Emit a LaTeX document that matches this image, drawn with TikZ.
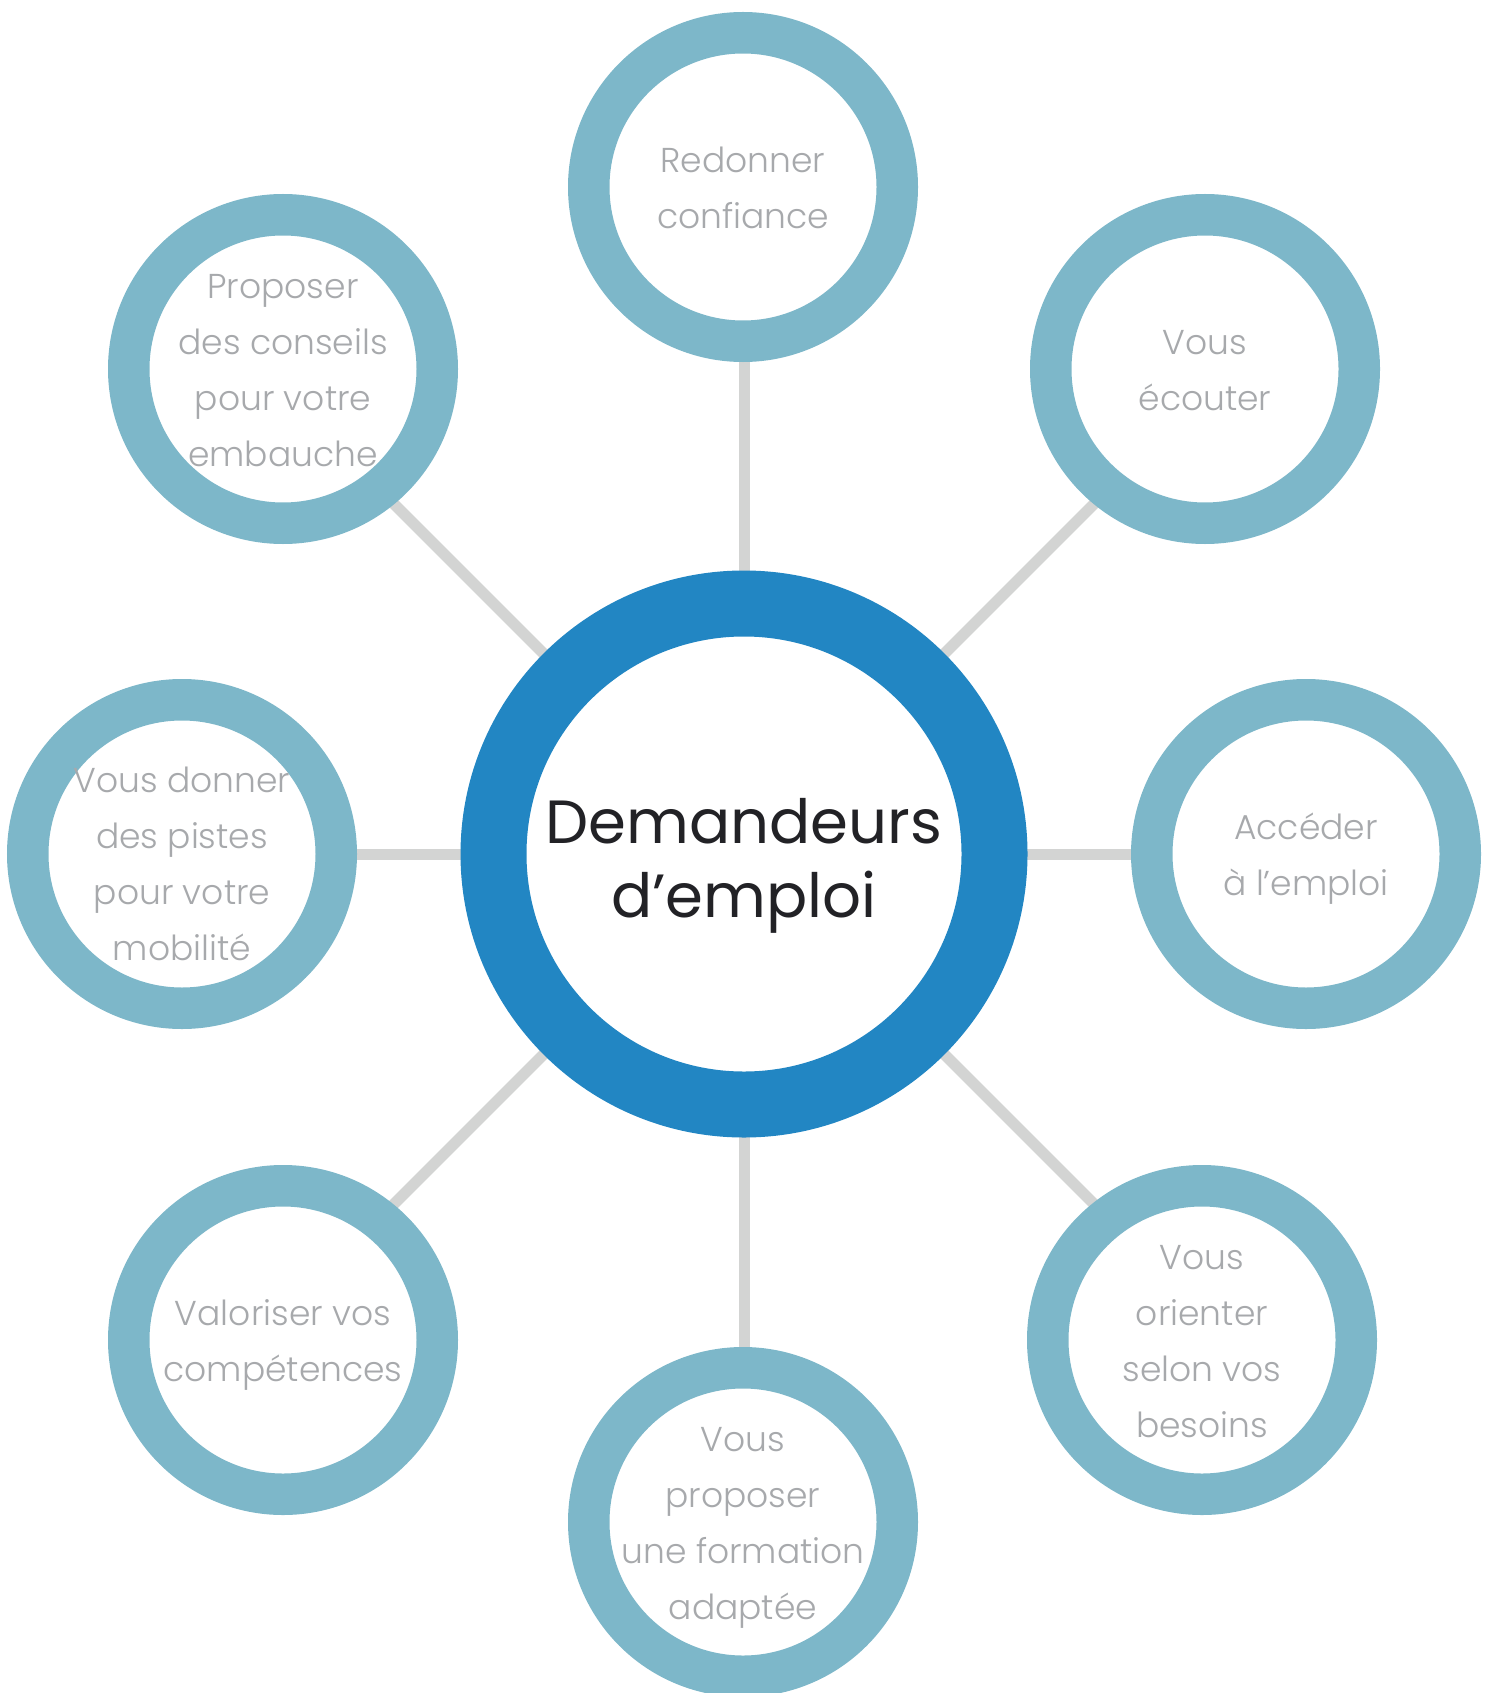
\documentclass[tikz,border=0pt]{standalone}
\usepackage{fontspec}
\usetikzlibrary{calc,backgrounds}
\setmainfont{Poppins}
\newfontfamily\legerfont{Poppins Light}
\definecolor{bleufonce}{HTML}{2286C3}
\definecolor{bleuclair}{HTML}{7DB7C9}
\definecolor{gristexte}{HTML}{A7A9AC}
\definecolor{grislien}{HTML}{D3D4D3}
\definecolor{noirtexte}{HTML}{222226}

\begin{document}
\begin{tikzpicture}
	[x=1pt,y=-1pt,
	every node/.style={circle,fill=white},
	centre/.style={draw=bleufonce,line width=66pt,minimum size=501pt,inner sep=0pt,
		text=noirtexte,align=center,font=\fontsize{61}{74}\selectfont,
		text height=126pt,text depth=0pt},
	bulle/.style={draw=bleuclair,line width=41.5pt,minimum size=308.5pt,inner sep=0pt},
	texte/.style={fill=none,inner sep=0pt,text=gristexte,align=center,
		font=\legerfont\fontsize{34.5}{56}\selectfont,text depth=0pt},
	deux/.style={texte,text height=83pt},
	quatre/.style={texte,text height=195pt},
	lien/.style={draw=grislien,line width=11pt}]
		\useasboundingbox (0,0) rectangle (1492,1693);
		\node[centre] (dem) at (744,854) {Demandeurs\\d’emploi};
		\node[bulle,label={[deux]center:Redonner\\confiance}] (conf) at (743,187) {};
		\node[bulle,label={[deux]center:Vous\\écouter}] (ecout) at (1205,369) {};
		\node[bulle,label={[deux]center:Accéder\\à l’emploi}] (acces) at (1306,854) {};
		\node[bulle,label={[quatre]center:Vous\\orienter\\selon vos\\besoins}] (orient) at (1202,1340) {};
		\node[bulle,label={[quatre]center:Vous\\proposer\\une formation\\adaptée}] (form) at (743,1522) {};
		\node[bulle,label={[deux]center:Valoriser vos\\compétences}] (compet) at (283,1340) {};
		\node[bulle,label={[quatre,yshift=-9pt]center:Vous donner\\des pistes\\pour votre\\mobilité}] (mobil) at (182,854) {};
		\node[bulle,label={[quatre]center:Proposer\\des conseils\\pour votre\\embauche}] (embau) at (283,369) {};
		% rayons a 45 degres, caches sous les bulles
		\begin{scope}[on background layer]
			\foreach \a in {90,45,0,-45,-90,-135,180,135}
				\draw[lien] (dem.center) -- ($(dem.center)!600pt!(dem.\a)$);
		\end{scope}
\end{tikzpicture}
\end{document}
